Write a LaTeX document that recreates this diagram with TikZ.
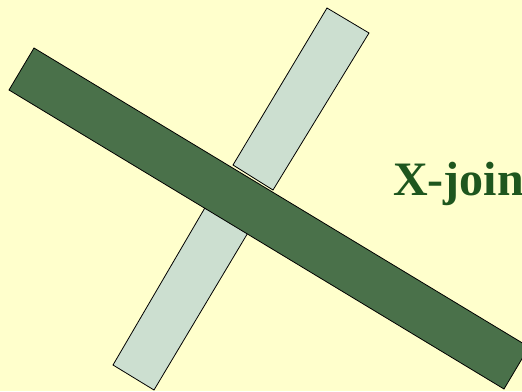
\documentclass[tikz,border=0pt]{standalone}
\usepackage{fontspec}
\setmainfont{Liberation Serif}
\definecolor{bg}{HTML}{FFFFCC}
\definecolor{darkbar}{HTML}{4A714A}
\definecolor{lightbar}{HTML}{CCDFD0}
\definecolor{txt}{HTML}{1E561E}
\begin{document}
\begin{tikzpicture}[x=1pt,y=-1pt,
  darkstyle/.style={fill=darkbar,draw=black,line width=0.8pt,line join=miter},
  lightstyle/.style={fill=lightbar,draw=black,line width=0.8pt,line join=miter}]
\useasboundingbox (0,0) rectangle (522,391);
\clip (0,0) rectangle (522,391);
\fill[bg] (0,0) rectangle (522,391);
% light bar, top piece
\draw[lightstyle] (327,8) -- (369,33) -- (273,190) -- (233,165) -- cycle;
% light bar, bottom piece
\draw[lightstyle] (206,206) -- (249,231) -- (154,390) -- (113,365) -- cycle;
% dark bar
\draw[darkstyle] (34,48) -- (529,347) -- (504,389) -- (9,90) -- cycle;
\node[anchor=base west,inner sep=0pt,text=txt,font=\fontsize{48}{48}\selectfont\bfseries] (lbl) at (393,195) {X-join};
\end{tikzpicture}
\end{document}
